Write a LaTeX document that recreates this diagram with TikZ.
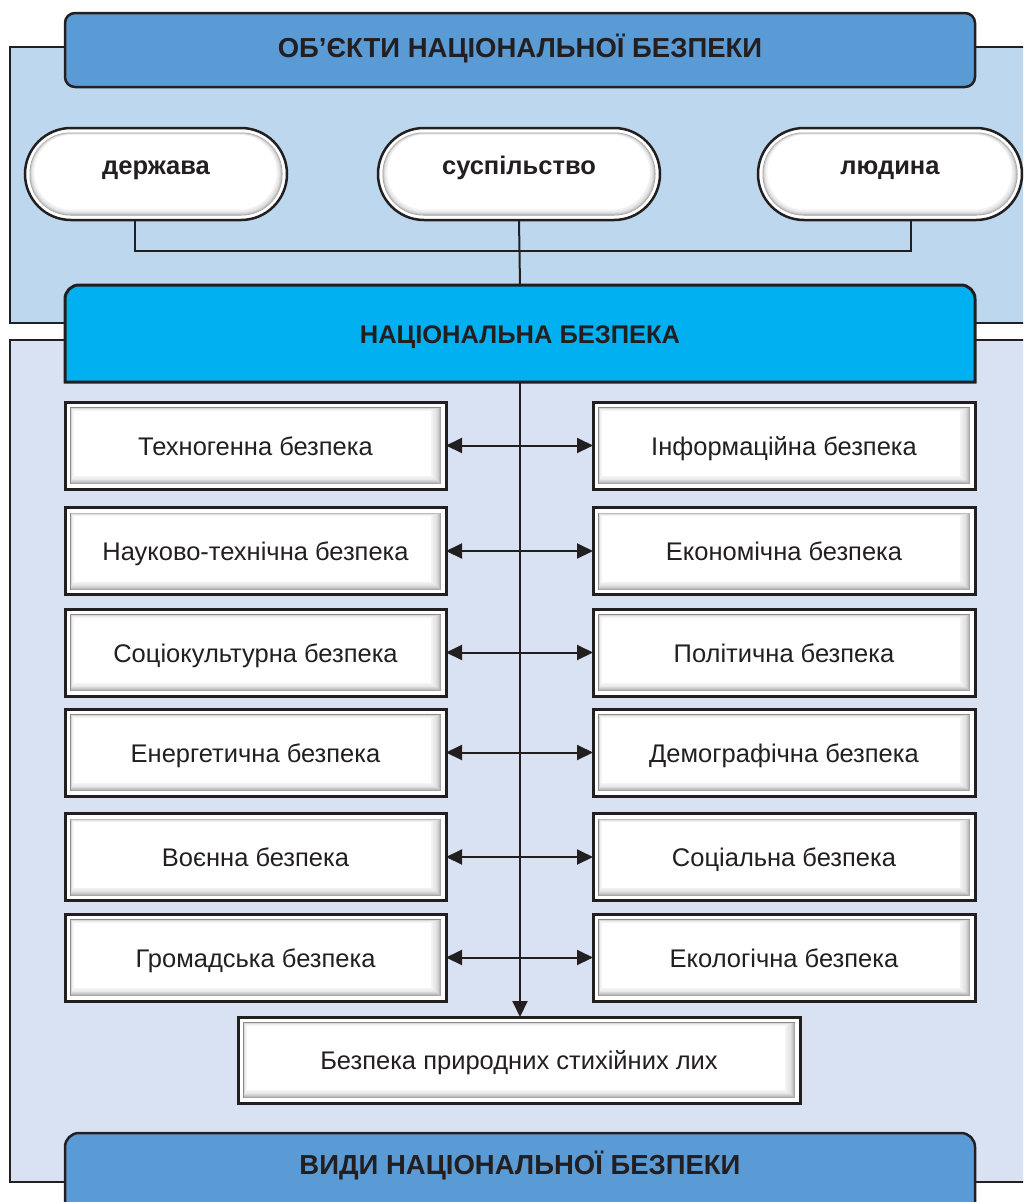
\documentclass[tikz,border=0pt]{standalone}
\usepackage{fontspec}
\setmainfont{Liberation Sans}
\usetikzlibrary{arrows.meta}
\definecolor{ink}{HTML}{231F20}
\definecolor{hdrblue}{HTML}{5B9BD5}
\definecolor{toppanel}{HTML}{BDD7EE}
\definecolor{lowpanel}{HTML}{D9E2F3}
\definecolor{natcyan}{HTML}{00B0F0}
\begin{document}
\begin{tikzpicture}[x=1pt,y=-1pt,
  every node/.style={text=ink, inner sep=0pt, outer sep=0pt},
  txt/.style={font=\fontsize{25.5}{30}\selectfont, text height=21pt, text depth=2pt},
  bold/.style={font=\fontsize{25.5}{30}\selectfont\bfseries},
  bighdr/.style={font=\fontsize{27.5}{32}\selectfont\bfseries, text height=17pt, text depth=3pt},
  panelline/.style={draw=ink, line width=2.5pt},
  conn/.style={draw=ink, line width=2pt},
  arr/.style={draw=ink, line width=2pt, {Triangle[length=16pt,width=15pt]}-{Triangle[length=16pt,width=15pt]}},
  downarr/.style={draw=ink, line width=2pt, -{Triangle[length=16pt,width=15pt]}},
  hdr/.style={bighdr, draw=ink, line width=2.5pt, fill=hdrblue},
  boxstyle/.style={txt, draw=ink, line width=3pt, fill=white, minimum height=87pt,
    path picture={
      \fill[gray!90]
        ([shift={(5pt,5pt)}]path picture bounding box.south west) rectangle
        ([shift={(-5pt,-5pt)}]path picture bounding box.north east);
      \foreach \k in {0,...,8} {
        \fill[white, opacity=0.24]
          ([shift={({5.5pt+0.25pt*\k},{5pt+0.9pt*\k})}]path picture bounding box.south west) rectangle
          ([shift={({-5pt-1.1pt*\k},{-5.5pt-0.3pt*\k})}]path picture bounding box.north east);
      }
      \fill[white]
        ([shift={(8.5pt,13pt)}]path picture bounding box.south west) rectangle
        ([shift={(-15pt,-8.5pt)}]path picture bounding box.north east);
    }},
  pill/.style={bold, text height=10pt, text depth=10pt, draw=ink, line width=2.5pt, fill=white, minimum height=92pt,
    rounded corners=46pt,
    path picture={
      \fill[gray!80, rounded corners=41pt]
        ([shift={(4.5pt,4.5pt)}]path picture bounding box.south west) rectangle
        ([shift={(-4.5pt,-4.5pt)}]path picture bounding box.north east);
      \foreach \k in {0,...,6} {
        \fill[white, opacity=0.3, rounded corners={40pt-0.3pt*\k}]
          ([shift={({5pt+0.6pt*\k},{5pt+0.8pt*\k})}]path picture bounding box.south west) rectangle
          ([shift={({-5pt-0.8pt*\k},{-5pt-0.3pt*\k})}]path picture bounding box.north east);
      }
      \fill[white, rounded corners=37pt]
        ([shift={(9.5pt,10.5pt)}]path picture bounding box.south west) rectangle
        ([shift={(-10.5pt,-7pt)}]path picture bounding box.north east);
    }},
]
\useasboundingbox (0,0) rectangle (1023,1202);
\clip (0,0) rectangle (1023,1202);

% panels
\draw[panelline, fill=toppanel] (10,47) rectangle (1045,323);
\draw[panelline, fill=lowpanel] (10,340) rectangle (1045,1182);

% top header
\node[hdr, minimum width=910pt, minimum height=74pt, rounded corners=10pt] (top) at (520,50) {ОБ’ЄКТИ НАЦІОНАЛЬНОЇ БЕЗПЕКИ};

% pills
\node[pill, minimum width=262pt] (d) at (156,174) {держава};
\node[pill, minimum width=282pt] (s) at (519,174) {суспільство};
\node[pill, minimum width=264pt] (l) at (890,174) {людина};

% national security box (rounded top only)
\draw[draw=ink, line width=3pt, fill=natcyan]
  (65,382) -- (65,299) arc[start angle=180, end angle=90, radius=14pt]
  -- (961,285) arc[start angle=90, end angle=0, radius=14pt] -- (975,382) -- cycle;
\node[bold, text height=19pt, text depth=-2pt, minimum width=910pt, minimum height=97pt] (n) at (520,333.5) {НАЦІОНАЛЬНА БЕЗПЕКА};

% bottom header
\draw[draw=ink, line width=2.5pt, fill=hdrblue]
  (65,1230) -- (65,1147) arc[start angle=180, end angle=90, radius=14pt]
  -- (961,1133) arc[start angle=90, end angle=0, radius=14pt] -- (975,1230) -- cycle;
\node[bighdr, text height=19.5pt, text depth=0pt] (v) at (520,1165) {ВИДИ НАЦІОНАЛЬНОЇ БЕЗПЕКИ};

% connectors between object pills
\coordinate (dl) at (135,251);
\coordinate (ll) at (911,251);
\draw[conn] (d.south -| dl) -- (dl) -- (ll) -- (l.south -| ll);
\draw[conn] (s.south) -- (n.north);

% kinds of security
\node[boxstyle, minimum width=381pt] (L1) at (255.5,445.5) {Техногенна безпека};
\node[boxstyle, minimum width=382pt] (R1) at (784,445.5) {Інформаційна безпека};
\node[boxstyle, minimum width=381pt] (L2) at (255.5,551) {Науково-технічна безпека};
\node[boxstyle, minimum width=382pt] (R2) at (784,551) {Економічна безпека};
\node[boxstyle, minimum width=381pt] (L3) at (255.5,652.5) {Соціокультурна безпека};
\node[boxstyle, minimum width=382pt] (R3) at (784,652.5) {Політична безпека};
\node[boxstyle, minimum width=381pt] (L4) at (255.5,752.5) {Енергетична безпека};
\node[boxstyle, minimum width=382pt] (R4) at (784,752.5) {Демографічна безпека};
\node[boxstyle, minimum width=381pt] (L5) at (255.5,857) {Воєнна безпека};
\node[boxstyle, minimum width=382pt] (R5) at (784,857) {Соціальна безпека};
\node[boxstyle, minimum width=381pt] (L6) at (255.5,957.5) {Громадська безпека};
\node[boxstyle, minimum width=382pt] (R6) at (784,957.5) {Екологічна безпека};
\node[boxstyle, minimum width=562pt, minimum height=86pt] (B) at (519,1060) {Безпека природних стихійних лих};

% main vertical connector
\draw[downarr] (n.south) -- (n.south |- B.north);

% horizontal double arrows
\foreach \i in {1,...,6} {
  \draw[arr] (L\i.east) -- (R\i.west);
}
\end{tikzpicture}
\end{document}
